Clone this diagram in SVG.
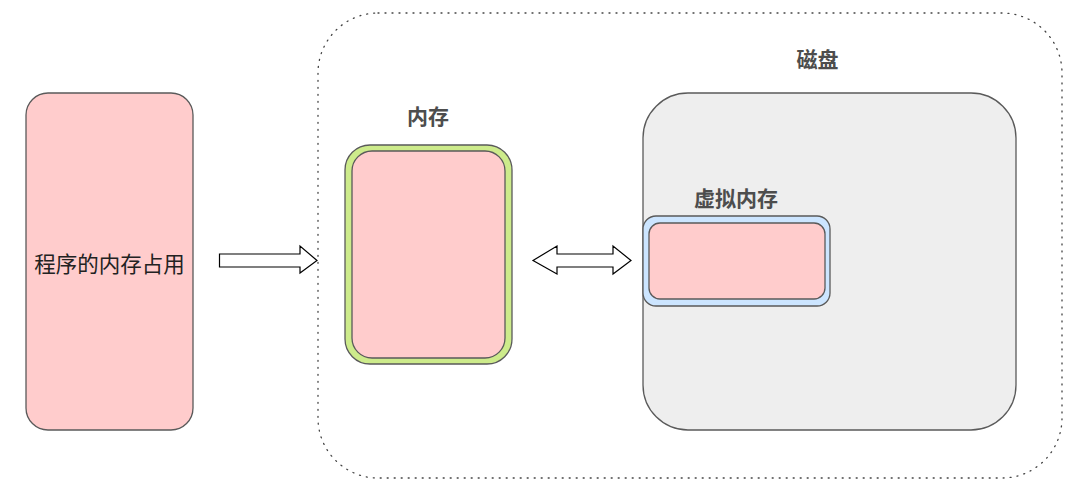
<svg xmlns="http://www.w3.org/2000/svg" width="1080" height="497" viewBox="0 0 1080 497">
<style>
.box{stroke:#5a5a5a;stroke-width:1.3}
.pink{fill:#ffcccc}
.lbl{font-family:"Noto Sans CJK SC","Noto Sans",sans-serif;font-size:21px;font-weight:bold;fill:#4d4d4d;text-anchor:middle}
.txt{font-family:"Noto Sans CJK SC","Noto Sans",sans-serif;font-size:21.5px;fill:#222;text-anchor:middle}
.arr{fill:#fff;stroke:#000;stroke-width:1.2;stroke-linejoin:miter}
</style>
<rect width="1080" height="497" fill="#fff"/>
<g id="container">
<rect x="318" y="13" width="744" height="465" rx="60" ry="60" fill="none" stroke="#444" stroke-width="1.3" stroke-dasharray="1 6" stroke-linecap="round"/>
</g>
<g id="program">
<rect class="box pink" x="26" y="93" width="167" height="337" rx="22" ry="22"/>
<text class="txt" x="109.5" y="272">程序的内存占用</text>
</g>
<g id="memory">
<text class="lbl" x="428" y="124">内存</text>
<rect class="box" x="345" y="145" width="167" height="219" rx="25" ry="25" fill="#cdeb8b"/>
<rect class="box pink" x="352" y="151" width="153" height="207" rx="20" ry="20"/>
</g>
<g id="disk">
<text class="lbl" x="817.5" y="67">磁盘</text>
<rect class="box" x="643" y="93" width="373" height="337" rx="45" ry="45" fill="#eeeeee"/>
</g>
<g id="virtual">
<text class="lbl" x="736" y="206">虚拟内存</text>
<rect class="box" x="643" y="216" width="187" height="90" rx="13" ry="13" fill="#cce5ff"/>
<rect class="box pink" x="649" y="223" width="176" height="76" rx="11" ry="11"/>
</g>
<g id="connectors">
<polygon class="arr" points="219.5,254 300,254 300,246 317,260.5 300,273 300,267 219.5,267"/>
<polygon class="arr" points="533,260.5 557,246 557,254 613,254 613,246 631,260.5 613,274 613,267 557,267 557,274"/>
</g>
</svg>
